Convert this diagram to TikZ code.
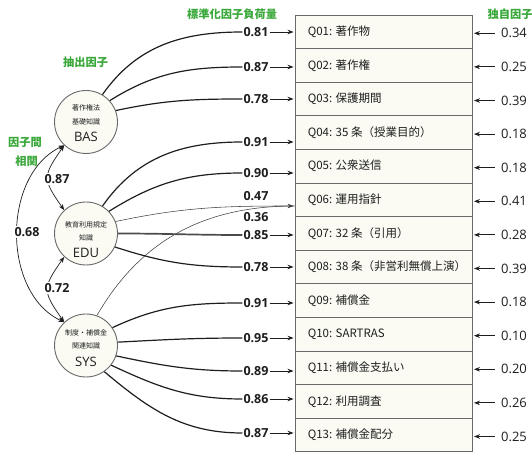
\documentclass[tikz,border=0pt]{standalone}
\usepackage{fontspec}
\setmainfont{Noto Sans CJK JP}
\newfontfamily\numfont{Open Sans}
\usetikzlibrary{arrows.meta}
\definecolor{hdr}{RGB}{58,168,58}
\definecolor{cream}{RGB}{251,251,244}
\definecolor{boxline}{RGB}{105,105,105}
\definecolor{ink}{RGB}{30,30,30}
\begin{document}
\begin{tikzpicture}[x=1pt,y=1pt,
  factor/.style={circle, draw=boxline, line width=0.9pt, fill=cream, minimum size=63pt, inner sep=0pt},
  ctext/.style={font=\fontsize{7}{8}\selectfont, inner sep=0pt, text=ink},
  fname/.style={font=\numfont\fontsize{13}{14}\selectfont, inner sep=0pt, text=ink},
  rowbox/.style={rectangle, draw=boxline, line width=0.9pt, fill=cream, minimum height=33.6pt, minimum width=177pt, inner sep=0pt},
  qtext/.style={font=\fontsize{11.5}{13}\selectfont, inner sep=0pt, text=ink},
  load/.style={font=\numfont\bfseries\fontsize{12.5}{13}\selectfont, fill=white, inner sep=1pt, text=ink},
  uniq/.style={font=\numfont\fontsize{13}{14}\selectfont, inner sep=1pt, text=ink},
  head/.style={font=\bfseries\fontsize{11.25}{12}\selectfont, text=hdr, inner sep=0pt},
  ldline/.style={draw=ink, line width=1.2pt},
  thinline/.style={draw=ink!85, line width=0.55pt},
  arr/.style={draw=ink, line width=0.9pt, -{Stealth[length=6pt,width=4.5pt]}},
  corr/.style={draw=ink, line width=0.7pt, {Stealth[length=6pt,width=4.5pt]}-{Stealth[length=6pt,width=4.5pt]}}
]
\useasboundingbox (0,0) rectangle (532,452);

% factors
\node[factor] (BAS) at (86,330) {};
\node[factor] (EDU) at (86,218.5) {};
\node[factor] (SYS) at (86,106.5) {};
\node[ctext] (b1) at (86,344) {著作権法};
\node[ctext] (b2) at (86,330) {基礎知識};
\node[fname] (b3) at (86,315) {BAS};
\node[ctext] (e1) at (86,227) {教育利用規定};
\node[ctext] (e2) at (86,214) {知識};
\node[fname] (e3) at (86,199) {EDU};
\node[ctext] (s1) at (86,119) {制度・補償金};
\node[ctext] (s2) at (86,106) {関連知識};
\node[fname] (s3) at (86,90) {SYS};

% headers
\node[head] (h1) at (232,438) {標準化因子負荷量};
\node[head] (h2) at (510,438) {独自因子};
\node[head] (h3) at (85.5,390) {抽出因子};
\node[head] (h4) at (25,310) {因子間};
\node[head] (h5) at (26.5,291) {相関};

% item rows
\foreach \i/\t in {1/{Q01: 著作物},2/{Q02: 著作権},3/{Q03: 保護期間},4/{Q04: 35 条（授業目的）},
  5/{Q05: 公衆送信},6/{Q06: 運用指針},7/{Q07: 32 条（引用）},8/{Q08: 38 条（非営利無償上演）},
  9/{Q09: 補償金},10/{Q10: SARTRAS},11/{Q11: 補償金支払い},12/{Q12: 利用調査},13/{Q13: 補償金配分}}{
  \node[rowbox] (q\i) at (383.5,{420.2-33.6*(\i-1)}) {};
  \node[qtext, anchor=west] (t\i) at ([xshift=13pt]q\i.west) {\t};
}

% unique factors
\foreach \i/\v in {1/0.34,2/0.25,3/0.39,4/0.18,5/0.18,6/0.41,7/0.28,8/0.39,9/0.18,10/0.10,11/0.20,12/0.26,13/0.25}{
  \node[uniq] (u\i) at (514,{420.2-33.6*(\i-1)-1.5}) {\v};
  \draw[arr, shorten <=5pt, shorten >=1.5pt] (u\i.west) -- (u\i.west -| q\i.east);
}

% loading labels
\foreach \i/\v/\yy in {1/0.81/420,2/0.87/385,3/0.78/353,4/0.91/310,5/0.90/279,7/0.85/217,8/0.78/185,
  9/0.91/149,10/0.95/114,11/0.89/81,12/0.86/53,13/0.87/19}{
  \node[load] (l\i) at (256,\yy) {\v};
  \draw[arr, shorten >=1pt] (l\i.east) -- (l\i.east -| q\i.west);
}
\node[load] (l6a) at (256,256) {0.47};
\node[load] (l6b) at (256,235) {0.36};
\coordinate (a6) at (q6.west |- 0,246);

% loadings
\draw[ldline] (BAS.59) to[out=55,in=180] (l1.west);
\draw[ldline] (BAS.42) to[out=32,in=180] (l2.west);
\draw[ldline] (BAS.21) to[out=12,in=180] (l3.west);
\draw[ldline] (EDU.59) to[out=55,in=180] (l4.west);
\draw[ldline] (EDU.44) to[out=32,in=180] (l5.west);
\draw[thinline] (SYS.70) to[out=60,in=180] (a6);
\draw[thinline, -{Stealth[length=6pt,width=4.5pt]}, shorten >=1pt] (EDU.22) to[out=12,in=180] (a6);
\draw[draw=ink!80, line width=1.7pt] (EDU.0) to[out=0,in=180] (l7.west);
\draw[ldline] (EDU.-25) to[out=-18,in=180] (l8.west);
\draw[ldline] (SYS.34) to[out=25,in=180] (l9.west);
\draw[ldline] (SYS.6) to[out=3,in=180] (l10.west);
\draw[ldline] (SYS.-19) to[out=-12,in=180] (l11.west);
\draw[ldline] (SYS.-38) to[out=-25,in=180] (l12.west);
\draw[ldline] (SYS.-55) to[out=-40,in=180] (l13.west);

% correlations
\draw[corr] (BAS.227) to[out=235,in=125,looseness=1.5] (EDU.133);
\draw[corr] (EDU.227) to[out=235,in=125,looseness=1.5] (SYS.133);
\draw[corr] (BAS.227) to[out=205,in=155] (SYS.133);
\node[load] (r1) at (57,273) {0.87};
\node[load] (r2) at (57,164) {0.72};
\node[load] (r3) at (27,220) {0.68};
\end{tikzpicture}
\end{document}
